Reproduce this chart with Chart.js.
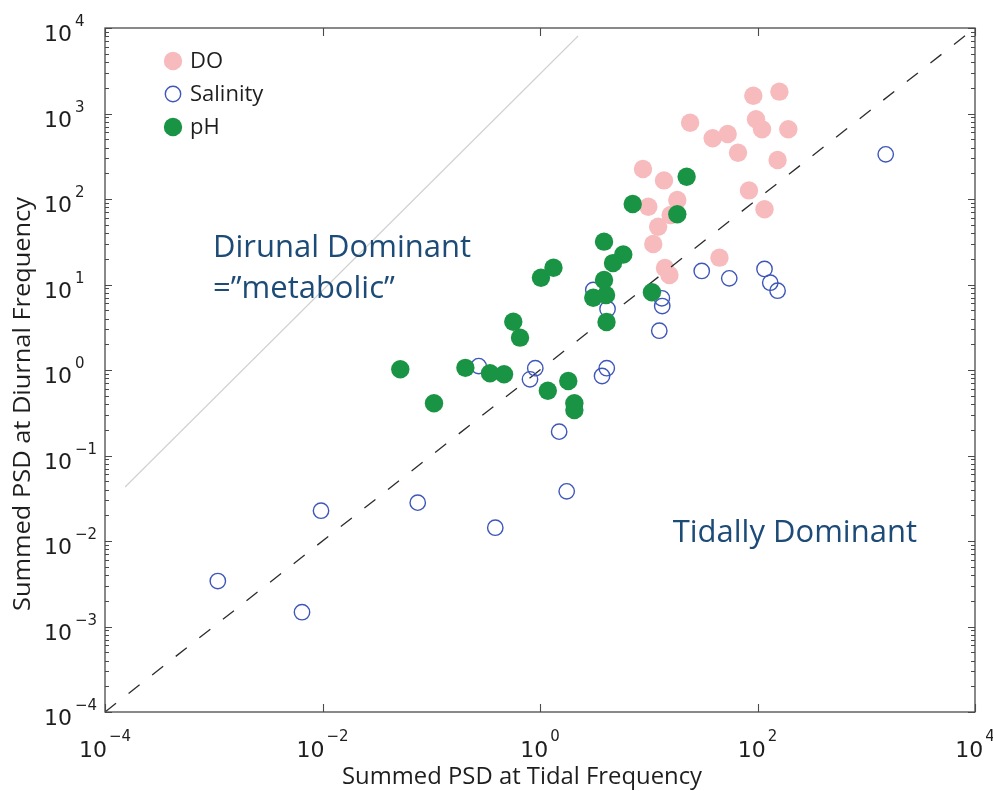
<!DOCTYPE html>
<html>
<head>
<meta charset="utf-8">
<script src="https://cdn.jsdelivr.net/npm/chart.js@4/dist/chart.umd.min.js"></script>
<style>
  html, body { margin: 0; padding: 0; background: #ffffff; }
  #wrap { width: 993px; height: 791px; }
</style>
</head>
<body>
<div id="wrap"><canvas id="c" width="993" height="791"></canvas></div>
<script>
// Summed PSD at tidal (x) vs diurnal (y) frequency, per constituent
const seriesNames = ['DO', 'Salinity', 'pH'];

const doTidal   = [91.5, 159, 24.0, 38.7, 53.2, 96.9, 110, 192, 66.2, 153, 8.85, 13.8, 83.5, 18.3, 9.91, 116, 15.9, 12.2, 11.0, 44.7, 14.1, 15.5];
const doDiurnal = [1615, 1800, 780, 513, 576, 855, 653, 653, 348, 286, 224, 165, 126, 97.3, 81.3, 75.8, 65.0, 47.4, 29.8, 20.6, 15.6, 12.9];

const salTidal   = [0.00109, 0.00648, 0.00969, 0.0751, 0.388, 0.273, 0.905, 0.809, 1.50, 1.76, 4.11, 3.72, 4.18, 3.09, 12.5, 13.2, 13.3, 30.7, 55.0, 116, 131, 153, 1510];
const salDiurnal = [0.00340, 0.00147, 0.0226, 0.0281, 0.0143, 1.11, 1.05, 0.778, 0.190, 0.0381, 1.05, 0.851, 5.17, 8.62, 2.88, 6.90, 5.60, 14.4, 11.8, 15.2, 10.5, 8.46, 333];

const phTidal   = [0.0519, 0.106, 0.206, 0.347, 0.467, 0.568, 0.655, 1.02, 1.33, 1.18, 1.82, 2.07, 2.07, 3.88, 4.69, 5.83, 3.88, 3.09, 4.05, 4.09, 7.12, 10.7, 18.3, 22.3];
const phDiurnal = [1.02, 0.408, 1.06, 0.915, 0.891, 3.67, 2.39, 12.0, 15.7, 0.573, 0.744, 0.408, 0.341, 31.7, 17.8, 22.4, 11.3, 7.01, 7.54, 3.64, 87.4, 8.11, 66.2, 182];

// 1:1 reference line and the faint guide line
const parityX = [1e-4, 1e4];
const parityY = [1e-4, 1e4];
const guideX = [1.53e-4, 2.24];
const guideY = [0.0428, 8060];

// tick exponents (labels are 10^n)
const xTickExponents = [-4, -2, 0, 2, 4];
const yTickExponents = [-4, -3, -2, -1, 0, 1, 2, 3, 4];

const xTitle = 'Summed PSD at Tidal Frequency';
const yTitle = 'Summed PSD at Diurnal Frequency';
const regionLabels = [
  { lines: ['Dirunal Dominant', '=\u201Dmetabolic\u201D'], x: 9.84e-4, y: 21.0 },
  { lines: ['Tidally Dominant'], x: 16.6, y: 0.00982 }
];

const toPoints = (xs, ys) => xs.map((v, i) => ({ x: v, y: ys[i] }));

const COLORS = {
  DO: 'rgb(247,187,189)',
  Salinity: 'rgb(62,86,186)',
  pH: 'rgb(25,148,68)'
};

const frame = {
  id: 'frame',
  afterDraw(chart) {
    const ctx = chart.ctx;
    const a = chart.chartArea;
    const xs = chart.scales.x, ys = chart.scales.y;
    ctx.save();

    // box
    ctx.strokeStyle = '#4a4a4a';
    ctx.lineWidth = 1.3;
    ctx.strokeRect(a.left, a.top, a.right - a.left, a.bottom - a.top);

    // x ticks (inside, bottom and top)
    ctx.lineWidth = 1.1;
    ctx.beginPath();
    xTickExponents.forEach(e => {
      const px = Math.round(xs.getPixelForValue(Math.pow(10, e))) + 0.5;
      ctx.moveTo(px, a.bottom); ctx.lineTo(px, a.bottom - 8);
      ctx.moveTo(px, a.top); ctx.lineTo(px, a.top + 8);
    });
    // y ticks, major and minor
    yTickExponents.forEach(e => {
      const py = Math.round(ys.getPixelForValue(Math.pow(10, e))) + 0.5;
      ctx.moveTo(a.left, py); ctx.lineTo(a.left + 7, py);
      ctx.moveTo(a.right, py); ctx.lineTo(a.right - 7, py);
      if (e < 4) {
        for (let m = 2; m <= 9; m++) {
          const q = Math.round(ys.getPixelForValue(m * Math.pow(10, e))) + 0.5;
          ctx.moveTo(a.left, q); ctx.lineTo(a.left + 4, q);
          ctx.moveTo(a.right, q); ctx.lineTo(a.right - 4, q);
        }
      }
    });
    ctx.stroke();

    // tick labels: "10" with a raised exponent
    const baseFont = '22px "DejaVu Sans"';
    const expFont = '15px "DejaVu Sans"';
    const expStr = e => (e < 0 ? '\u2212' + Math.abs(e) : String(e));
    ctx.fillStyle = '#1e1e1e';
    ctx.textBaseline = 'alphabetic';
    ctx.textAlign = 'left';

    xTickExponents.forEach(e => {
      const px = xs.getPixelForValue(Math.pow(10, e));
      ctx.font = baseFont; const w1 = ctx.measureText('10').width;
      ctx.font = expFont; const w2 = ctx.measureText(expStr(e)).width;
      const left = px - (w1 + 2 + w2) / 2;
      ctx.font = baseFont; ctx.fillText('10', left, 757);
      ctx.font = expFont; ctx.fillText(expStr(e), left + w1 + 2, 741);
    });

    yTickExponents.forEach(e => {
      const py = ys.getPixelForValue(Math.pow(10, e));
      ctx.font = baseFont; const w1 = ctx.measureText('10').width;
      const left = 72 - w1;
      ctx.fillText('10', left, py + 13);
      ctx.font = expFont; ctx.fillText(expStr(e), 75, py - 2);
    });

    // axis titles, set in a narrow cut
    const drawTitle = (txt, cx, cy, width, rot) => {
      ctx.save();
      ctx.translate(cx, cy);
      if (rot) ctx.rotate(-Math.PI / 2);
      ctx.font = '23px "Open Sans"';
      const w = ctx.measureText(txt).width;
      ctx.scale(width / w, 1);
      ctx.textAlign = 'center';
      ctx.textBaseline = 'alphabetic';
      ctx.fillStyle = '#1e1e1e';
      ctx.fillText(txt, 0, 0);
      ctx.restore();
    };
    drawTitle(xTitle, 522, 784, 360, false);
    drawTitle(yTitle, 30, 404, 414, true);

    // region annotations
    ctx.fillStyle = '#1d4b78';
    ctx.font = '31px "Open Sans"';
    ctx.textAlign = 'left';
    regionLabels.forEach(r => {
      const px = xs.getPixelForValue(r.x);
      const py = ys.getPixelForValue(r.y);
      r.lines.forEach((ln, i) => ctx.fillText(ln, px, py + i * 41));
    });

    // legend
    ctx.font = '22px "Open Sans"';
    ctx.textBaseline = 'middle';
    seriesNames.forEach((name, i) => {
      const ds = chart.data.datasets.find(d => d.label === name);
      const cy = 61 + i * 33;
      ctx.beginPath();
      ctx.arc(173, cy, ds.pointRadius, 0, Math.PI * 2);
      if (ds.pointBackgroundColor !== 'transparent') {
        ctx.fillStyle = ds.pointBackgroundColor; ctx.fill();
      } else {
        ctx.strokeStyle = ds.pointBorderColor; ctx.lineWidth = ds.pointBorderWidth; ctx.stroke();
      }
      ctx.fillStyle = '#1e1e1e';
      ctx.fillText(name, 190, cy + 1);
    });

    ctx.restore();
  }
};

new Chart(document.getElementById('c'), {
  type: 'scatter',
  data: {
    datasets: [
      {
        label: 'pH', order: 0,
        data: toPoints(phTidal, phDiurnal),
        pointRadius: 9.2, pointBorderWidth: 0,
        pointBackgroundColor: COLORS.pH, pointBorderColor: COLORS.pH
      },
      {
        label: 'Salinity', order: 1,
        data: toPoints(salTidal, salDiurnal),
        pointRadius: 7.7, pointBorderWidth: 1.4,
        pointBackgroundColor: 'transparent', pointBorderColor: COLORS.Salinity
      },
      {
        label: 'parity', order: 2,
        data: toPoints(parityX, parityY),
        showLine: true, pointRadius: 0, borderColor: '#2c2c2c', borderWidth: 1.3,
        borderDash: [14, 16]
      },
      {
        label: 'DO', order: 3,
        data: toPoints(doTidal, doDiurnal),
        pointRadius: 9.2, pointBorderWidth: 0,
        pointBackgroundColor: COLORS.DO, pointBorderColor: COLORS.DO
      },
      {
        label: 'guide', order: 4,
        data: toPoints(guideX, guideY),
        showLine: true, pointRadius: 0, borderColor: 'rgba(200,200,200,0.85)', borderWidth: 1.1
      }
    ]
  },
  options: {
    responsive: false,
    devicePixelRatio: 1,
    animation: false,
    layout: { padding: { left: 105, right: 18, top: 28, bottom: 79 } },
    plugins: { legend: { display: false }, tooltip: { enabled: false } },
    scales: {
      x: { type: 'logarithmic', min: 1e-4, max: 1e4, display: false },
      y: { type: 'logarithmic', min: 1e-4, max: 1e4, display: false }
    }
  },
  plugins: [frame]
});
</script>
</body>
</html>
